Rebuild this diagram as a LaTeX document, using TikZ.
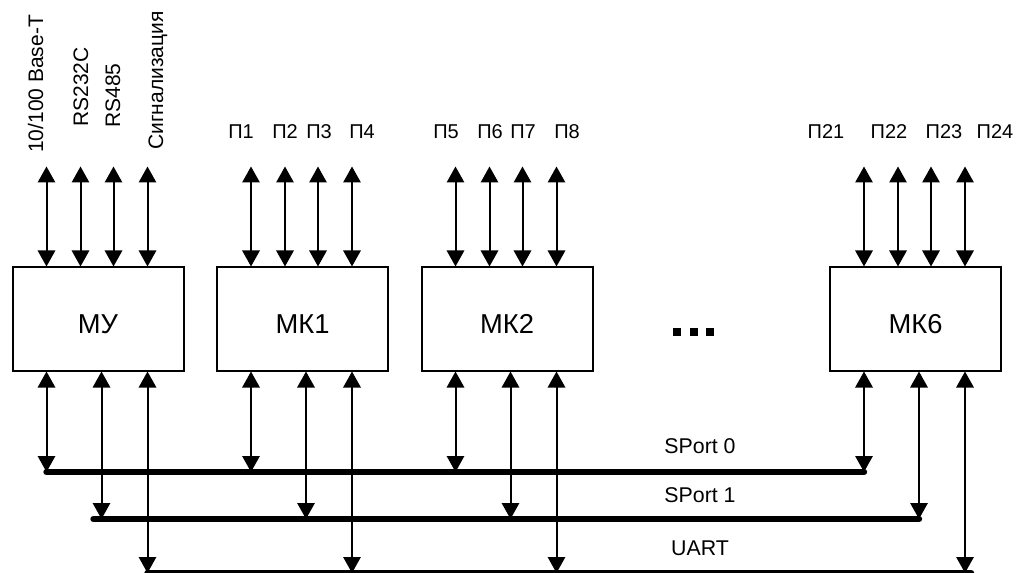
\documentclass[tikz,border=0pt]{standalone}
\usepackage{fontspec}
\setmainfont{Liberation Sans}
\usetikzlibrary{arrows.meta,positioning,calc}

\tikzset{
  blok/.style={draw, line width=1.5pt, minimum width=128.25pt, minimum height=77.25pt,
    inner sep=0pt, text height=22pt, text depth=0pt,
    font=\fontsize{20.5}{21}\selectfont},
  link/.style={line width=1.5pt,
    {Triangle[width=13pt,length=12pt]}-{Triangle[width=13pt,length=12pt]}},
  bus/.style={line width=4.8pt, line cap=round},
  port/.style={font=\fontsize{15}{16}\selectfont},
  buslbl/.style={font=\fontsize{16}{17}\selectfont},
  sig/.style={rotate=90, anchor=base west, inner sep=0pt,
    font=\fontsize{15.75}{17}\selectfont}
}

\begin{document}
\begin{tikzpicture}[x=0.75pt, y=-0.75pt]
  \useasboundingbox (0,0) rectangle (1019,573);
  % Blocks
  \foreach \b/\x/\t in {mu/98/МУ, mk1/302.5/МК1, mk2/507/МК2, mk6/915.5/МК6}
    \node[blok] (\b) at (\x,319) {\t};
  % Dots between MK2 and MK6
  \foreach \x in {677,694,710}
    \fill (\x-4,328) rectangle (\x+4,336);

  % Top links
  \foreach \b in {mu,mk1,mk2,mk6}{
    \foreach \o [count=\i] in {35,69,102,136}{
      \coordinate (\b-t\i) at ($(\b.north west)+(\o,-100)$);
      \draw[link] (\b-t\i) -- (\b-t\i |- \b.north);
    }
  }
  % Interface labels of MU
  \node[sig] (n1) at (43,153) {10/100 Base-T};
  \node[sig] (n2) at (88,127) {RS232C};
  \node[sig] (n3) at (120,128) {RS485};
  \node[sig] (n4) at (163,150) {Сигнализация};
  % Port labels
  \foreach \x/\n in {241/1,285/2,319/3,362/4,446/5,490/6,523/7,567/8,
                     826/21,889/22,944/23,995/24}
    \node[port] (p\n) at (\x,132) {П\n};

  % Buses
  \coordinate (s0) at (0,472);
  \coordinate (s1) at (0,519);
  \coordinate (ua) at (0,573);
  \foreach \b in {mu,mk1,mk2,mk6}{
    \foreach \o [count=\i] in {35,90,136}
      \coordinate (\b-b\i) at ($(\b.south west)+(\o,0)$);
  }
  \draw[bus] (mu-b1 |- s0) -- (mk6-b1 |- s0);
  \draw[bus] ($(mu-b2 |- s1)+(-8,0)$) -- (mk6-b2 |- s1);
  \draw[bus] (mu-b3 |- ua) -- ($(mk6-b3 |- ua)+(6,0)$);
  % Bottom links
  \foreach \b in {mu,mk1,mk2,mk6}{
    \draw[link] (\b-b1) -- (\b-b1 |- s0);
    \draw[link] (\b-b2) -- (\b-b2 |- s1);
    \draw[link] (\b-b3) -- (\b-b3 |- ua);
  }
  \node[buslbl] (l0) at (700,446) {SPort 0};
  \node[buslbl] (l1) at (700,495) {SPort 1};
  \node[buslbl] (l2) at (700,548) {UART};
\end{tikzpicture}
\end{document}
